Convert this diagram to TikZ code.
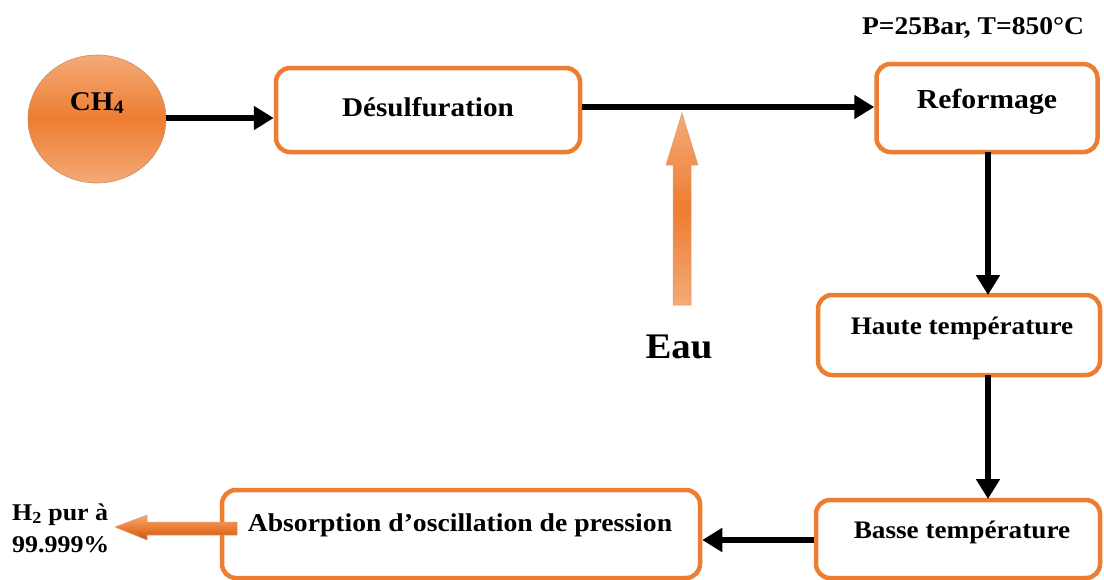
\documentclass[tikz,border=0pt]{standalone}
\usepackage{fontspec}
\setmainfont{Liberation Serif}[FakeStretch=1.08]
\usetikzlibrary{arrows.meta,calc}
\definecolor{orng}{RGB}{237,125,49}
\definecolor{orngl}{RGB}{244,170,120}
\definecolor{orngd}{RGB}{190,90,30}
\newcommand{\fsz}[1]{\bfseries\fontsize{#1}{#1}\selectfont}
\tikzset{
  box/.style={draw=orng, line width=4.5pt, rounded corners=14pt, fill=white},
  lbl/.style={inner sep=0pt},
  flow/.style={line width=5.5pt, -{Triangle[length=20pt,width=23pt]}},
}
\begin{document}
\begin{tikzpicture}[x=1pt,y=-1pt]
\useasboundingbox (0,0) rectangle (1104,579);

% methane source
\shade[top color=orngl, bottom color=orngl, middle color=orng, draw=orngd!70, line width=0.6pt]
  (97,119) ellipse [x radius=69, y radius=64];
\node[lbl, font=\fsz{27}] (ch4) at (97,103) {CH\textsubscript{4}};
\coordinate (ch4e) at (166,118);

% process units
\node[box, minimum width=304pt, minimum height=84pt] (des) at (428,110) {};
\node[lbl, font=\fsz{27}] at (428,107) {Désulfuration};
\node[box, minimum width=221pt, minimum height=88pt] (ref) at (987,108) {};
\node[lbl, font=\fsz{27.5}] at (987,102) {Reformage};
\node[box, minimum width=282pt, minimum height=80pt] (hte) at (959,335) {};
\node[lbl, font=\fsz{25.2}] at (962,328) {Haute température};
\node[box, minimum width=284pt, minimum height=78pt] (bte) at (958,539) {};
\node[lbl, font=\fsz{25.2}] at (962,532) {Basse température};
\node[box, minimum width=478pt, minimum height=88pt] (psa) at (461,534) {};
\node[lbl, font=\fsz{25.6}] at (460,525) {Absorption d’oscillation de pression};

\node[lbl, font=\fsz{25.5}] (cond) at (973,28) {P=25Bar, T=850°C};
\node[lbl, font=\fsz{36}] (eau) at (679,347) {Eau};
\node[lbl, align=left, anchor=west, font=\fsz{24}] (h2) at (12,528)
  {H\textsubscript{2} pur à\\[8pt]99.999\%};

% main flow
\draw[flow] (ch4e) -- (des.west |- ch4e);
\draw[flow] (des.east |- 0,107) -- (ref.west |- 0,107);
\draw[flow] (988,152) -- (988,295);
\draw[flow] (988,375) -- (988,499);
\draw[flow] (bte.west |- 0,540) -- (psa.east |- 0,540);

% water feed (fat arrow)
\coordinate (wtip) at (682,113);
\shade[top color=orngl, bottom color=orngl, middle color=orng, draw=orngd!60, line width=0.5pt]
  (673,305) -- (673,165) -- (666,165) -- (wtip) -- (698,165) -- (691,165) -- (691,305) -- cycle;

% hydrogen product (fat arrow)
\coordinate (htip) at (115,527);
\shade[top color=orngl, bottom color=orngd, middle color=orng, draw=orngd!60, line width=0.5pt]
  (237,522) -- (147,522) -- (147,515) -- (htip) -- (147,540) -- (147,535) -- (237,535) -- cycle;
\end{tikzpicture}
\end{document}
